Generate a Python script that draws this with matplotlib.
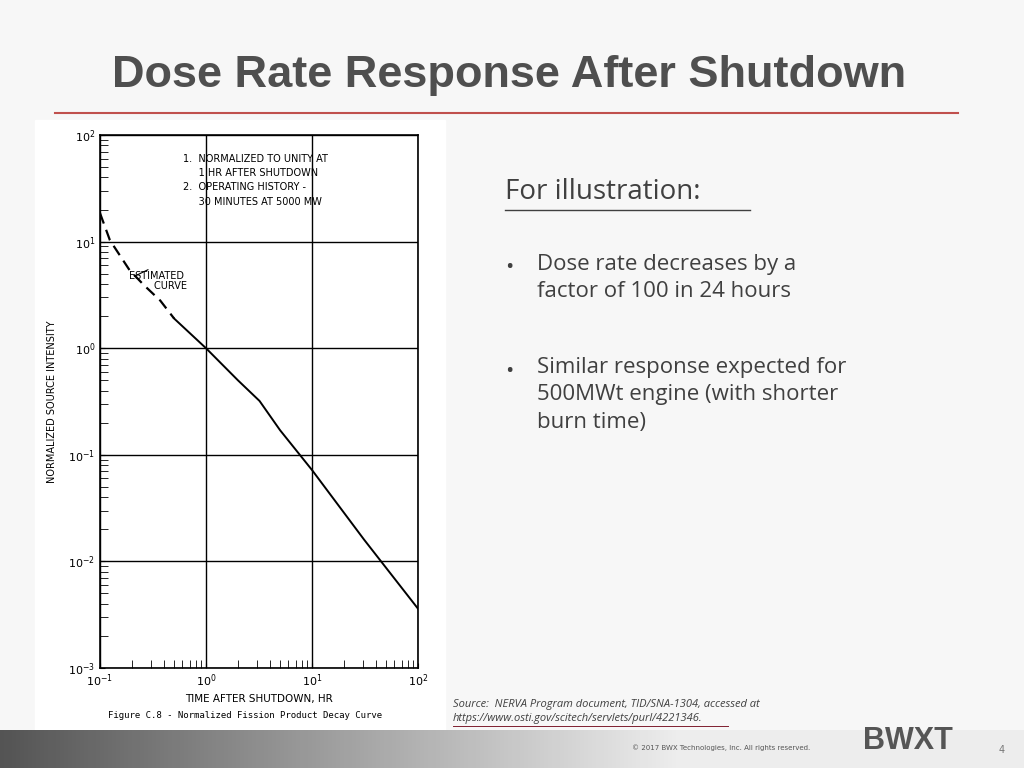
import numpy as np
import matplotlib
matplotlib.use("Agg")
import matplotlib.pyplot as plt
from matplotlib.patches import Rectangle
from matplotlib.ticker import LogLocator

# data
est_t = [0.1, 0.124, 0.19, 0.26, 0.37, 0.5]
est_y = [18.5, 10.3, 5.4, 3.9, 2.8, 1.9]
sol_t = [0.5, 1.0, 2.0, 3.2, 5.0, 10.0, 31.0, 100.0]
sol_y = [1.9, 1.0, 0.5, 0.32, 0.17, 0.072, 0.016, 0.0036]
title = "Dose Rate Response After Shutdown"
bullets = ["Dose rate decreases by a\nfactor of 100 in 24 hours",
           "Similar response expected for\n500MWt engine (with shorter\nburn time)"]

fig = plt.figure(figsize=(10.24, 7.68), dpi=100)
fig.patch.set_facecolor("#f7f7f7")
fig.add_artist(Rectangle((35/1024, 1-730/768), 410/1024, 610/768, transform=fig.transFigure,
                         color="white", zorder=0))
bax = fig.add_axes([0, 0, 1, 38/768])
cols = np.concatenate([np.linspace(0.33, 0.93, 170), np.full(86, 0.93)])
img = np.dstack([cols, cols, cols]).repeat(2, 0)
bax.imshow(img, aspect="auto", extent=[0, 1, 0, 1])
bax.axis("off")

fig.text(112/1024, 1-75/768, title, fontsize=32.5, fontweight="bold", family="Liberation Sans",
         color="#4f4f4f", va="center")
fig.add_artist(plt.Line2D([55/1024, 958/1024], [1-113/768]*2, color="#c0504d", lw=1.5))

tc = "#404040"
fig.text(505/1024, 1-192/768, "For illustration:", fontsize=20, family="Open Sans", color=tc, va="center")
fig.add_artist(plt.Line2D([505/1024, 750/1024], [1-210/768]*2, color=tc, lw=1))
fig.text(505/1024, 1-268/768, "•", fontsize=16, family="Open Sans", color=tc, va="center")
fig.text(537/1024, 1-254/768, bullets[0], fontsize=16, family="Open Sans", color=tc, va="top", linespacing=1.4)
fig.text(505/1024, 1-371/768, "•", fontsize=16, family="Open Sans", color=tc, va="center")
fig.text(537/1024, 1-357/768, bullets[1], fontsize=16, family="Open Sans", color=tc, va="top", linespacing=1.4)

fig.text(453/1024, 1-704/768, "Source:  NERVA Program document, TID/SNA-1304, accessed at",
         fontsize=8, style="italic", family="Open Sans", color=tc, va="center")
fig.text(453/1024, 1-719/768, "https://www.osti.gov/scitech/servlets/purl/4221346.",
         fontsize=8, style="italic", family="Open Sans", color=tc, va="center")
fig.add_artist(plt.Line2D([453/1024, 728/1024], [1-726/768]*2, color="#7f1f2f", lw=0.7))
fig.text(810/1024, 1-748/768, "© 2017 BWX Technologies, Inc. All rights reserved.", fontsize=5,
         color="#555555", ha="right", va="center")
fig.text(908/1024, 1-741/768, "BWXT", fontsize=22, fontweight="bold", family="Liberation Sans",
         color="#555555", ha="center", va="center")
fig.text(1002/1024, 1-750/768, "4", fontsize=7, color="#777777", ha="center", va="center")

ax = fig.add_axes([100/1024, 1-668/768, 318/1024, 533/768])
ax.set_xscale("log"); ax.set_yscale("log")
ax.set_xlim(0.1, 100); ax.set_ylim(1e-3, 1e2)
ax.plot(est_t, est_y, color="black", lw=1.6, ls=(0, (5, 3)))
ax.plot(sol_t, sol_y, color="black", lw=1.4)
ax.grid(True, which="major", color="black", lw=1)
ax.xaxis.set_major_locator(LogLocator(10))
ax.yaxis.set_major_locator(LogLocator(10))
ax.tick_params(which="both", direction="in", top=False, right=False, labelsize=8)
ax.tick_params(which="minor", length=6)
for s in ax.spines.values():
    s.set_linewidth(1.2)
ax.set_xlabel("TIME AFTER SHUTDOWN, HR", fontsize=7.5, labelpad=3)
ax.set_ylabel("NORMALIZED SOURCE INTENSITY", fontsize=7, labelpad=8)
ax.text(0.26, 0.965, "1.  NORMALIZED TO UNITY AT\n     1 HR AFTER SHUTDOWN\n2.  OPERATING HISTORY -\n     30 MINUTES AT 5000 MW",
        transform=ax.transAxes, fontsize=7, va="top", linespacing=1.55)
ax.text(0.09, 0.745, "ESTIMATED\n        CURVE", transform=ax.transAxes, fontsize=7, va="top", linespacing=1.0)
ax.annotate("", xy=(0.2, 4.6), xytext=(0.3, 5.6), arrowprops=dict(arrowstyle="-", lw=0.8))
fig.text(245/1024, 1-715/768, "Figure C.8 - Normalized Fission Product Decay Curve", fontsize=6.5,
         family="DejaVu Sans Mono", ha="center", va="center")
fig.savefig("out.png", dpi=100, facecolor=fig.get_facecolor())
